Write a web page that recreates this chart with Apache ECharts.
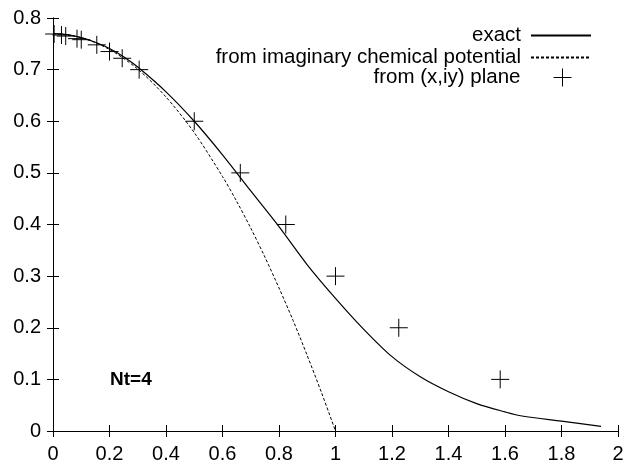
<!DOCTYPE html>
<html>
<head>
<meta charset="utf-8">
<script src="https://cdn.jsdelivr.net/npm/echarts@6/dist/echarts.min.js"></script>
<style>
html,body{margin:0;padding:0;background:#fff;}
#chart{width:626px;height:461px;}
</style>
</head>
<body>
<div id="chart"></div>
<script>
// exact curve
const exactX = [0, 0.05, 0.1, 0.15, 0.2, 0.25, 0.3, 0.4, 0.5, 0.6, 0.7, 0.8, 0.9, 1.0, 1.1, 1.2, 1.3, 1.4, 1.5, 1.6, 1.66, 1.8, 1.94];
const exactY = [0.770, 0.768, 0.762, 0.753, 0.741, 0.725, 0.705, 0.657, 0.600, 0.535, 0.465, 0.396, 0.322, 0.257, 0.197, 0.144, 0.105, 0.076, 0.053, 0.037, 0.029, 0.019, 0.009];
// from imaginary chemical potential
const imagX = [0, 0.1, 0.2, 0.3, 0.4, 0.5, 0.6, 0.65, 0.7, 0.75, 0.8, 0.85, 0.9, 0.95, 1.0];
const imagY = [0.770, 0.762, 0.739, 0.701, 0.647, 0.578, 0.493, 0.445, 0.393, 0.337, 0.277, 0.214, 0.146, 0.075, 0.0];
// from (x,iy) plane
const planeX = [0.004, 0.03, 0.045, 0.085, 0.1, 0.155, 0.2, 0.245, 0.305, 0.5, 0.663, 0.824, 1.0, 1.224, 1.583];
const planeY = [0.769, 0.767, 0.765, 0.760, 0.758, 0.748, 0.735, 0.722, 0.700, 0.6, 0.5, 0.4, 0.3, 0.2, 0.1];

const xTicks = [0, 0.2, 0.4, 0.6, 0.8, 1, 1.2, 1.4, 1.6, 1.8, 2];
const yTicks = [0, 0.1, 0.2, 0.3, 0.4, 0.5, 0.6, 0.7, 0.8];

const names = ['exact', 'from imaginary chemical potential', 'from (x,iy) plane'];
const FONT = "'Liberation Sans', Arial, sans-serif";
const FS = 20;
const LFS = 20.5;
const zip = (a, b) => a.map((v, i) => [v, b[i]]);

const axisCommon = {
  axisLine: {show: true, lineStyle: {color: '#000', width: 1}},
  axisTick: {show: true, inside: true, length: 6, lineStyle: {color: '#000', width: 1}},
  splitLine: {show: false}
};

const chart = echarts.init(document.getElementById('chart'), null, {renderer: 'canvas'});
const legendBase = {
  orient: 'vertical', align: 'right', right: 34, padding: 0, itemGap: 0,
  itemWidth: 60, itemHeight: 14,
  itemStyle: {opacity: 0},
  textStyle: {fontFamily: FONT, fontSize: LFS, color: '#000', padding: [0, 5, 0, 0]},
  selectedMode: false
};
chart.setOption({
  animation: false,
  backgroundColor: '#fff',
  grid: {left: 53, right: 8, top: 18, bottom: 30, containLabel: false, outerBoundsMode: 'none'},
  legend: [
    Object.assign({}, legendBase, {data: [names[0]], top: 25}),
    Object.assign({}, legendBase, {data: [names[1]], top: 47}),
    Object.assign({}, legendBase, {data: [names[2]], top: 67, right: 54, itemWidth: 18, itemHeight: 18,
      textStyle: {fontFamily: FONT, fontSize: LFS, color: '#000', padding: [0, 28, 0, 0]},
      itemStyle: {color: 'rgba(0,0,0,0)', borderColor: '#000', borderWidth: 1}})
  ],
  xAxis: [
    Object.assign({}, axisCommon, {
      type: 'value', min: 0, max: 2, interval: 0.2, position: 'bottom',
      axisLabel: {fontFamily: FONT, fontSize: FS, color: '#000', margin: 13,
        formatter: v => { const t = xTicks.find(k => Math.abs(k - v) < 1e-9); return t === undefined ? '' : String(t); }}
    }),
    Object.assign({}, axisCommon, {
      type: 'value', min: 0, max: 2, interval: 0.2, position: 'top', axisLabel: {show: false}
    })
  ],
  yAxis: [
    Object.assign({}, axisCommon, {
      type: 'value', min: 0, max: 0.8, interval: 0.1, position: 'left',
      axisLabel: {fontFamily: FONT, fontSize: FS, color: '#000', margin: 12,
        formatter: v => { const t = yTicks.find(k => Math.abs(k - v) < 1e-9); return t === undefined ? '' : String(t); }}
    }),
    Object.assign({}, axisCommon, {
      type: 'value', min: 0, max: 0.8, interval: 0.1, position: 'right', axisLabel: {show: false}
    })
  ],
  graphic: [{
    type: 'text', left: 110, top: 370,
    style: {text: 'Nt=4', fontFamily: FONT, fontSize: 19, fontWeight: 'bold', fill: '#000'}
  }],
  series: [
    {
      name: names[0], type: 'line', data: zip(exactX, exactY), symbol: 'none', smooth: 0.3,
      lineStyle: {color: '#000', width: 1.2}, itemStyle: {color: '#000'}, emphasis: {disabled: true}
    },
    {
      name: names[1], type: 'line', data: zip(imagX, imagY), symbol: 'none', smooth: 0.3,
      lineStyle: {color: '#000', width: 1, type: [3, 2]}, itemStyle: {color: '#000'}, emphasis: {disabled: true}
    },
    {
      name: names[2], type: 'scatter', data: zip(planeX, planeY),
      symbol: 'path://M0,10L20,10M10,0L10,20', symbolSize: 18, symbolKeepAspect: true,
      itemStyle: {color: 'rgba(0,0,0,0)', borderColor: '#000', borderWidth: 1, opacity: 1},
      emphasis: {disabled: true}, z: 3
    }
  ]
});
</script>
</body>
</html>
